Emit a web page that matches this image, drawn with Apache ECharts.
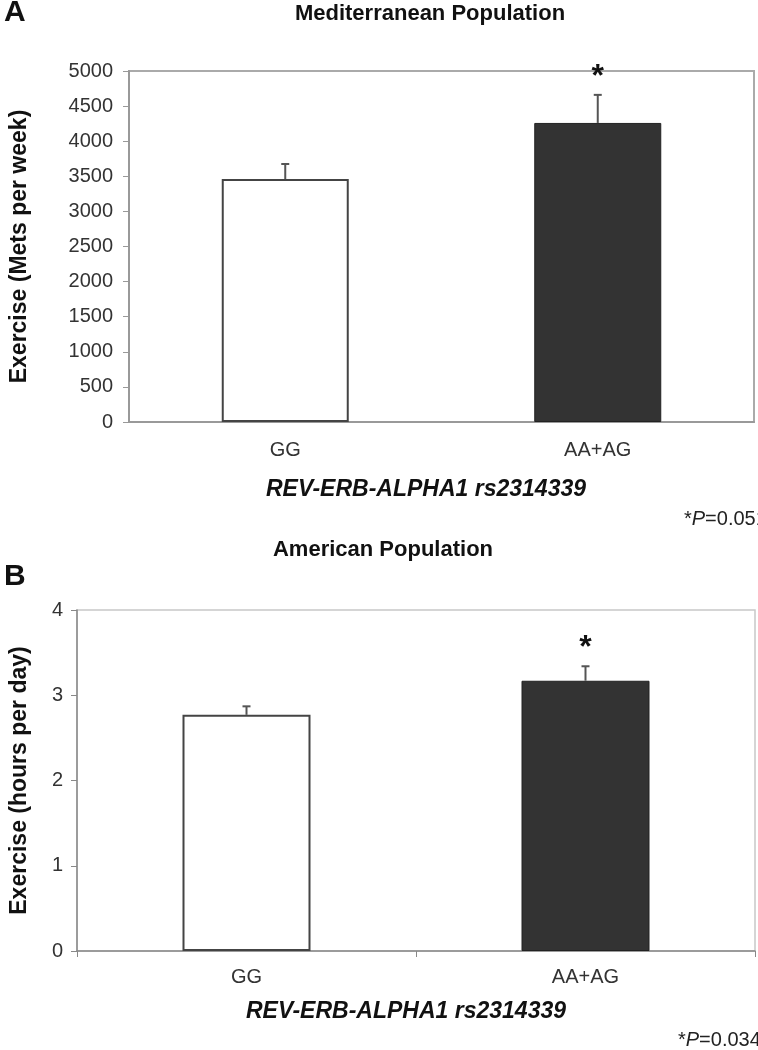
<!DOCTYPE html>
<html>
<head>
<meta charset="utf-8">
<script src="https://cdn.jsdelivr.net/npm/echarts@6/dist/echarts.min.js"></script>
<style>
html,body{margin:0;padding:0;background:#fff;}
#chart{width:758px;height:1050px;}
</style>
</head>
<body>
<div id="chart"></div>
<script>
// ---- data ----
const categories = ['GG', 'AA+AG'];
const medMeans = [3460, 4260];
const medSEM = [215, 400];
const amMeans = [2.77, 3.17];
const amSEM = [0.10, 0.17];
const sigMarks = ['', '*'];
const medTicks = { min: 0, max: 5000, interval: 500 };
const amTicks = { min: 0, max: 4, interval: 1 };
const medTitle = 'Mediterranean Population';
const amTitle = 'American Population';
const medYName = 'Exercise (Mets per week)';
const amYName = 'Exercise (hours per day)';
const xName = 'REV-ERB-ALPHA1 rs2314339';
const medP = '0.051';
const amP = '0.034';

const FONT = 'Liberation Sans, Arial, Helvetica, sans-serif';

function barData(means) {
  return means.map((v, i) => ({
    value: v,
    itemStyle: i === 0
      ? { color: '#ffffff', borderColor: '#444', borderWidth: 2 }
      : { color: '#333333', borderColor: '#222', borderWidth: 1 }
  }));
}
function errData(means, sem) {
  return means.map((v, i) => [i, v, sem[i], i]);
}
function errRender(params, api) {
  const x = api.value(0), y = api.value(1), e = api.value(2), idx = api.value(3);
  const base = api.coord([x, y]);
  const top = api.coord([x, y + e]);
  const children = [
    { type: 'line', shape: { x1: base[0], y1: base[1], x2: top[0], y2: top[1] },
      style: { stroke: '#555', lineWidth: 2 } },
    { type: 'line', shape: { x1: top[0] - 4, y1: top[1], x2: top[0] + 4, y2: top[1] },
      style: { stroke: '#555', lineWidth: 2 } }
  ];
  const mark = sigMarks[idx];
  if (mark) {
    children.push({ type: 'text', style: { text: mark, x: top[0], y: top[1] - 2,
      align: 'center', verticalAlign: 'bottom', fill: '#111',
      font: 'bold 32px ' + FONT } });
  }
  return { type: 'group', children };
}

const axisLabelStyle = { color: '#333', fontSize: 20, fontFamily: FONT };
const plainNum = v => String(v);
const yNameStyle = { color: '#111', fontSize: 23, fontWeight: 'bold', fontFamily: FONT };

const option = {
  animation: false,
  backgroundColor: '#fff',
  grid: [
    { left: 124, right: 4, top: 71, height: 351, show: true, borderColor: '#aaa', borderWidth: 2, backgroundColor: 'transparent' },
    { left: 71, right: 3, top: 610, height: 341, show: true, borderColor: '#c8c8c8', borderWidth: 1.5, backgroundColor: 'transparent' }
  ],
  xAxis: [
    { type: 'category', gridIndex: 0, data: categories,
      axisLine: { lineStyle: { color: '#999', width: 2 } },
      axisTick: { show: false },
      axisLabel: Object.assign({ margin: 18 }, axisLabelStyle) },
    { type: 'category', gridIndex: 1, data: categories,
      axisLine: { lineStyle: { color: '#888', width: 1.5 } },
      axisTick: { show: true, length: 6, lineStyle: { color: '#888' } },
      axisLabel: Object.assign({ margin: 16 }, axisLabelStyle) }
  ],
  yAxis: [
    { type: 'value', gridIndex: 0, min: medTicks.min, max: medTicks.max, interval: medTicks.interval,
      name: medYName, nameLocation: 'middle', nameGap: 98, nameTextStyle: yNameStyle,
      axisLine: { show: true, lineStyle: { color: '#999', width: 2 } },
      axisTick: { show: true, inside: false, length: 6, lineStyle: { color: '#999' } },
      splitLine: { show: false },
      axisLabel: Object.assign({ margin: 16, formatter: plainNum }, axisLabelStyle) },
    { type: 'value', gridIndex: 1, min: amTicks.min, max: amTicks.max, interval: amTicks.interval,
      name: amYName, nameLocation: 'middle', nameGap: 46, nameTextStyle: yNameStyle,
      axisLine: { show: true, lineStyle: { color: '#888', width: 1.5 } },
      axisTick: { show: true, inside: false, length: 6, lineStyle: { color: '#888' } },
      splitLine: { show: false },
      axisLabel: Object.assign({ margin: 14, formatter: plainNum }, axisLabelStyle) }
  ],
  series: [
    { type: 'bar', xAxisIndex: 0, yAxisIndex: 0, data: barData(medMeans), barWidth: 127 },
    { type: 'custom', xAxisIndex: 0, yAxisIndex: 0, data: errData(medMeans, medSEM), renderItem: errRender, z: 5 },
    { type: 'bar', xAxisIndex: 1, yAxisIndex: 1, data: barData(amMeans), barWidth: 128 },
    { type: 'custom', xAxisIndex: 1, yAxisIndex: 1, data: errData(amMeans, amSEM), renderItem: errRender, z: 5 }
  ],
  graphic: [
    { type: 'text', left: 4, top: -2, style: { text: 'A', font: 'bold 30px ' + FONT, fill: '#111' } },
    { type: 'text', x: 430, y: 14, style: { text: medTitle, font: 'bold 22px ' + FONT, fill: '#111', align: 'center', verticalAlign: 'middle' } },
    { type: 'text', x: 426, y: 490, style: { text: xName, font: 'italic bold 23px ' + FONT, fill: '#111', align: 'center', verticalAlign: 'middle' } },
    { type: 'text', x: 684, y: 519, style: { rich: { n: { font: '20px ' + FONT, fill: '#222' }, i: { font: 'italic 20px ' + FONT, fill: '#222' } }, text: '{n|*}{i|P}{n|=' + medP + '}', verticalAlign: 'middle' } },
    { type: 'text', left: 4, top: 562, style: { text: 'B', font: 'bold 30px ' + FONT, fill: '#111' } },
    { type: 'text', x: 383, y: 550, style: { text: amTitle, font: 'bold 22px ' + FONT, fill: '#111', align: 'center', verticalAlign: 'middle' } },
    { type: 'text', x: 406, y: 1012, style: { text: xName, font: 'italic bold 23px ' + FONT, fill: '#111', align: 'center', verticalAlign: 'middle' } },
    { type: 'text', x: 678, y: 1040, style: { rich: { n: { font: '20px ' + FONT, fill: '#222' }, i: { font: 'italic 20px ' + FONT, fill: '#222' } }, text: '{n|*}{i|P}{n|=' + amP + '}', verticalAlign: 'middle' } }
  ]
};

const chart = echarts.init(document.getElementById('chart'), null, { renderer: 'canvas' });
chart.setOption(option);
</script>
</body>
</html>
